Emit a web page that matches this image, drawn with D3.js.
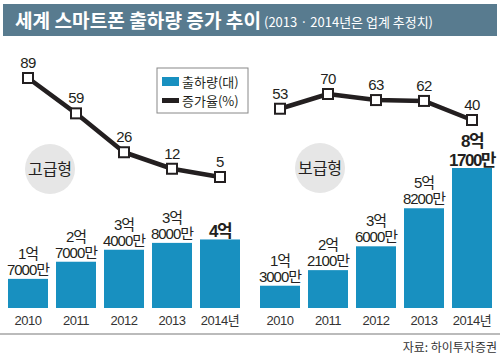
<!DOCTYPE html>
<html>
<head>
<meta charset="utf-8">
<script src="https://cdn.jsdelivr.net/npm/d3@7"></script>
<style>
  body { margin: 0; background: #fff; }
  text { font-family: "Liberation Sans", "Noto Sans CJK KR", sans-serif; }
  .kr { font-family: "Noto Sans CJK KR", sans-serif; }
</style>
</head>
<body>
<div id="chart"></div>
<script>
// data (shipments in 만 units)
var years = ['2010', '2011', '2012', '2013', '2014년'];
var premiumShip = [17000, 27000, 34000, 38000, 40000];
var premiumGrowth = [89, 59, 26, 12, 5];
var massShip = [13000, 22100, 36000, 58200, 81700];
var massGrowth = [53, 70, 63, 62, 40];

var width = 500, height = 359;
var blue = '#1890c0', ink = '#231f20';

var svg = d3.select('#chart').append('svg')
  .attr('width', width).attr('height', height);

// title bar
svg.append('rect').attr('x', 3).attr('y', 4).attr('width', 494).attr('height', 32)
  .attr('fill', '#587b8f');
svg.append('text').attr('class', 'kr').attr('x', 15).attr('y', 28)
  .attr('fill', '#fff').attr('font-size', 19).attr('font-weight', 'bold')
  .attr('textLength', 246).attr('lengthAdjust', 'spacingAndGlyphs')
  .text('세계 스마트폰 출하량 증가 추이');
svg.append('text').attr('class', 'kr').attr('x', 264).attr('y', 27)
  .attr('fill', '#fff').attr('font-size', 13)
  .attr('textLength', 169).attr('lengthAdjust', 'spacingAndGlyphs')
  .text('(2013 · 2014년은 업계 추정치)');

var yShip = d3.scaleLinear().domain([0, 81700]).range([308, 168]);

function fmt(v) {
  var eok = Math.floor(v / 10000), man = v % 10000;
  return man ? [eok + '억', man + '만'] : [eok + '억'];
}

function panel(x0, x1, ship, growth, rateDomain, rateRange, name, circ, lastSize) {
  var x = d3.scaleBand().domain(years).range([x0, x1])
    .paddingInner(1 / 6).paddingOuter(1 / 12);
  var yRate = d3.scaleLinear().domain(rateDomain).range(rateRange);
  var g = svg.append('g');

  // category bubble
  g.append('circle').attr('cx', circ[0]).attr('cy', circ[1]).attr('r', 25).attr('fill', '#e6e6e6');
  g.append('text').attr('class', 'kr').attr('x', circ[0]).attr('y', circ[1] + 6)
    .attr('text-anchor', 'middle').attr('font-size', 16).attr('fill', ink).text(name);

  // bars
  g.selectAll('rect.bar').data(ship).enter().append('rect')
    .attr('class', 'bar')
    .attr('x', function (d, i) { return x(years[i]); })
    .attr('y', function (d) { return yShip(d); })
    .attr('width', x.bandwidth())
    .attr('height', function (d) { return yShip(0) - yShip(d); })
    .attr('fill', blue);

  // bar labels
  ship.forEach(function (d, i) {
    var lines = fmt(d), last = i === ship.length - 1;
    var t = g.append('text').attr('text-anchor', 'middle')
      .attr('font-size', last ? lastSize : 15)
      .attr('font-weight', last ? 'bold' : 'normal')
      .attr('letter-spacing', last ? -1.5 : -1)
      .attr('fill', ink);
    var lh = last ? 19 : 16, gap = last ? 2 : 4;
    lines.forEach(function (s, k) {
      t.append('tspan').attr('x', x(years[i]) + x.bandwidth() / 2)
        .attr('y', yShip(d) - gap - (lines.length - 1 - k) * lh)
        .text(s);
    });
  });

  // x labels
  g.selectAll('text.yr').data(years).enter().append('text')
    .attr('class', 'yr')
    .attr('x', function (d) { return x(d) + x.bandwidth() / 2; })
    .attr('y', 325).attr('text-anchor', 'middle')
    .attr('font-size', 13).attr('letter-spacing', -0.5).attr('fill', '#333')
    .text(function (d) { return d; });

  // growth line
  var cx = function (d, i) { return x(years[i]) + x.bandwidth() / 2; };
  var line = d3.line().x(cx).y(function (d) { return yRate(d); });
  g.append('path').datum(growth).attr('d', line)
    .attr('fill', 'none').attr('stroke', ink).attr('stroke-width', 4.5)
    .attr('stroke-linejoin', 'round');
  g.selectAll('rect.mk').data(growth).enter().append('rect')
    .attr('class', 'mk')
    .attr('x', function (d, i) { return cx(d, i) - 5; })
    .attr('y', function (d) { return yRate(d) - 5; })
    .attr('width', 10).attr('height', 10)
    .attr('fill', '#fff').attr('stroke', ink).attr('stroke-width', 2);
  g.selectAll('text.rt').data(growth).enter().append('text')
    .attr('class', 'rt')
    .attr('x', cx)
    .attr('y', function (d) { return yRate(d) - 10; })
    .attr('text-anchor', 'middle').attr('font-size', 15).attr('letter-spacing', -0.5)
    .attr('fill', ink)
    .text(function (d) { return d; });
}

panel(4, 244, premiumShip, premiumGrowth, [5, 89], [177, 78], '고급형', [50, 169], 17);
panel(256, 496, massShip, massGrowth, [40, 70], [120, 94], '보급형', [320, 168], 17);

// legend
var lg = svg.append('g');
lg.append('rect').attr('x', 157).attr('y', 68).attr('width', 91).attr('height', 45)
  .attr('fill', '#fff').attr('stroke', '#888').attr('stroke-width', 1);
lg.append('rect').attr('x', 162).attr('y', 77).attr('width', 17).attr('height', 9).attr('fill', blue);
lg.append('rect').attr('x', 162).attr('y', 98).attr('width', 17).attr('height', 5).attr('fill', ink);
lg.append('text').attr('class', 'kr').attr('x', 182).attr('y', 87).attr('font-size', 13)
  .attr('fill', ink).text('출하량(대)');
lg.append('text').attr('class', 'kr').attr('x', 182).attr('y', 106).attr('font-size', 13)
  .attr('fill', ink).text('증가율(%)');

// footer
svg.append('line').attr('x1', 0).attr('x2', 500).attr('y1', 334).attr('y2', 334)
  .attr('stroke', '#bbb').attr('stroke-width', 2);
svg.append('text').attr('class', 'kr').attr('x', 497).attr('y', 352)
  .attr('text-anchor', 'end').attr('font-size', 12).attr('fill', '#333')
  .text('자료: 하이투자증권');
</script>
</body>
</html>
